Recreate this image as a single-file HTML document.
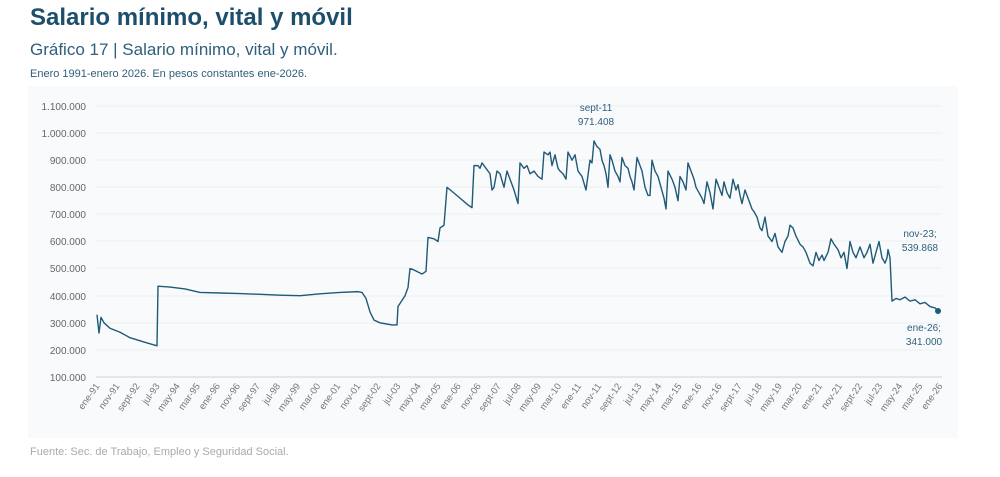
<!DOCTYPE html>
<html><head><meta charset="utf-8"><style>
body{margin:0;background:#fff;font-family:"Liberation Sans",sans-serif;}
.wrap{position:relative;width:1000px;height:477px;overflow:hidden;}
.t1{position:absolute;left:30px;top:4px;font-size:24px;font-weight:bold;color:#1d4f6d;}
.t2{position:absolute;left:30px;top:40px;font-size:17px;color:#2e5f7c;}
.t3{position:absolute;left:30px;top:68px;font-size:11px;color:#2e5f7c;}
.src{position:absolute;left:30px;top:446px;font-size:11px;color:#aaa;}
</style></head><body><div class="wrap">
<div class="t1">Salario mínimo, vital y móvil</div>
<div class="t2">Gráfico 17 | Salario mínimo, vital y móvil.</div>
<div class="t3">Enero 1991-enero 2026. En pesos constantes ene-2026.</div>
<svg width="1000" height="477" style="position:absolute;left:0;top:0">
<rect x="28" y="86" width="930" height="352" fill="#f9fafb"/>
<g stroke="#eef0f2" stroke-width="1.2">
<line x1="96" x2="942" y1="106" y2="106"/><line x1="96" x2="942" y1="133" y2="133"/><line x1="96" x2="942" y1="160" y2="160"/><line x1="96" x2="942" y1="187" y2="187"/><line x1="96" x2="942" y1="214" y2="214"/><line x1="96" x2="942" y1="241" y2="241"/><line x1="96" x2="942" y1="268" y2="268"/><line x1="96" x2="942" y1="296" y2="296"/><line x1="96" x2="942" y1="323" y2="323"/><line x1="96" x2="942" y1="350" y2="350"/><line x1="96" x2="942" y1="377" y2="377" stroke="#d8dbde"/>
</g>
<g font-size="10" fill="#666" text-anchor="end">
<text x="86" y="110">1.100.000</text><text x="86" y="137">1.000.000</text><text x="86" y="164">900.000</text><text x="86" y="191">800.000</text><text x="86" y="218">700.000</text><text x="86" y="245">600.000</text><text x="86" y="272">500.000</text><text x="86" y="300">400.000</text><text x="86" y="327">300.000</text><text x="86" y="354">200.000</text><text x="86" y="381">100.000</text>
</g>
<g font-size="9.5" fill="#777" text-anchor="end" id="xl"></g>
<polyline fill="none" stroke="#1f5a78" stroke-width="1.4" vector-effect="non-scaling-stroke" stroke-linejoin="round" transform="matrix(1,0,0,-0.271,0,404.1)" points="97,330 99,262 101,320 104,300 110,280 120,265 130,245 145,228 157,215 158,435 170,432 185,425 200,412 220,410 240,408 260,405 280,402 300,400 320,407 340,412 358,415 362,412 366,390 370,340 374,310 380,300 392,292 397,292 398,360 405,400 408,430 410,500 414,495 422,480 426,490 428,615 434,610 438,600 440,650 444,660 447,800 452,785 460,760 468,735 472,725 474,880 478,880 480,870 482,890 486,870 490,850 492,790 494,800 497,860 500,850 504,800 507,860 510,830 514,790 518,740 520,890 524,870 527,880 530,850 534,860 538,840 542,830 544,930 548,920 550,930 552,880 555,920 558,870 560,860 563,850 566,830 568,930 572,900 575,920 578,860 582,840 586,790 590,900 592,890 594,971 597,950 600,940 602,900 604,880 606,850 608,800 610,920 612,900 615,860 618,840 620,820 622,910 625,880 628,870 630,840 632,820 634,790 637,910 640,880 642,860 645,800 648,770 650,770 652,900 655,860 658,840 661,800 664,760 666,720 668,860 672,830 675,800 678,750 680,840 683,820 686,790 688,890 691,860 694,830 696,800 699,780 702,760 704,740 707,820 710,780 713,720 716,830 719,800 722,770 724,820 727,780 730,760 733,830 736,790 738,810 740,770 742,740 745,790 748,760 752,720 754,710 757,690 760,650 762,640 765,690 768,620 772,600 775,630 778,580 782,560 785,600 788,620 790,660 793,650 796,620 800,590 803,580 806,560 810,520 813,510 816,560 819,530 822,550 824,530 828,560 831,610 834,590 838,570 841,540 844,560 847,500 850,600 853,560 856,540 860,580 864,540 867,560 870,590 873,520 876,560 879,600 882,540 885,520 887,540 888,570 890,540 892,380 896,390 900,385 905,395 910,380 915,385 920,370 925,375 930,360 935,355 938,345 940,341"/>
<circle cx="938" cy="311" r="3" fill="#1f5a78"/>
<g font-size="10" fill="#2e5f7c" text-anchor="middle">
<text x="596" y="111">sept-11</text><text x="596" y="125">971.408</text>
<text x="920" y="237">nov-23;</text><text x="920" y="251">539.868</text>
<text x="924" y="331">ene-26;</text><text x="924" y="345">341.000</text>
</g>
</svg>
<div class="src">Fuente: Sec. de Trabajo, Empleo y Seguridad Social.</div>
</div>
<script>
var L="ene-91 nov-91 sept-92 jul-93 may-94 mar-95 ene-96 nov-96 sept-97 jul-98 may-99 mar-00 ene-01 nov-01 sept-02 jul-03 may-04 mar-05 ene-06 nov-06 sept-07 jul-08 may-09 mar-10 ene-11 nov-11 sept-12 jul-13 may-14 mar-15 ene-16 nov-16 sept-17 jul-18 may-19 mar-20 ene-21 nov-21 sept-22 jul-23 may-24 mar-25 ene-26".split(" ");
var g=document.getElementById("xl"),s="";
for(var i=0;i<L.length;i++){var x=97+i*20.07;s+='<text transform="translate('+(x+3)+',386) rotate(-55)">'+L[i]+'</text>';}
g.innerHTML=s;
</script>
</body></html>
